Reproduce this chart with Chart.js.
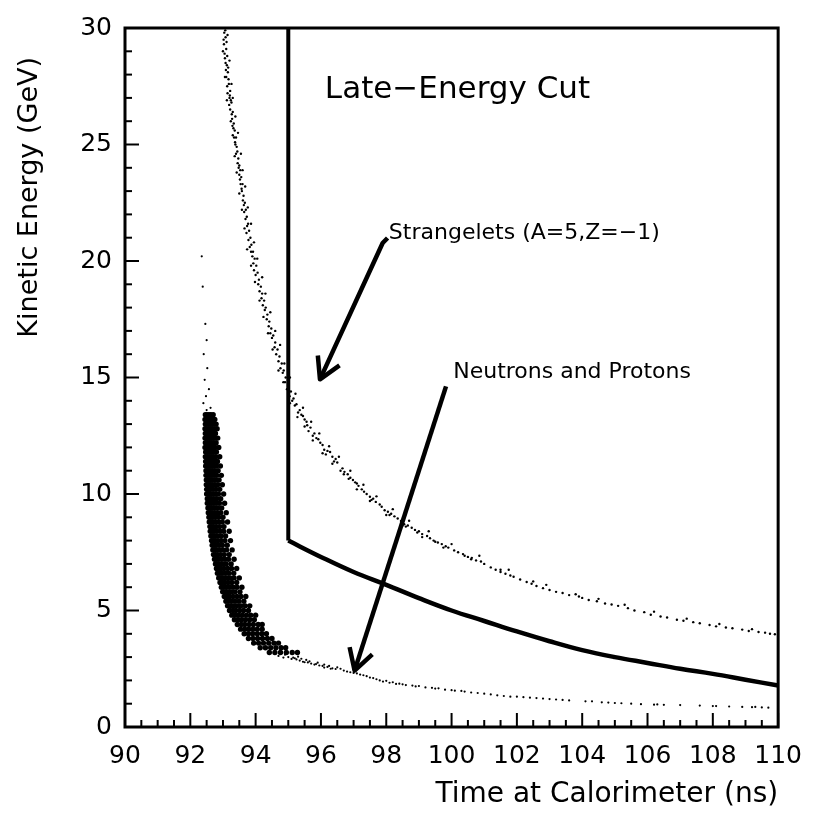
<!DOCTYPE html>
<html>
<head>
<meta charset="utf-8">
<script src="https://cdn.jsdelivr.net/npm/chart.js@4"></script>
<style>
  html, body { margin: 0; padding: 0; background: #fff; }
  #wrap { width: 816px; height: 814px; }
</style>
</head>
<body>
<div id="wrap"><canvas id="cutChart" width="816" height="814"></canvas></div>
<script>
// Neutron/proton band, dense part: [energy, [times...]] rows
const neutronRows = [
  [13.4, [92.46, 92.51, 92.57, 92.63, 92.7]],
  [13.2, [92.45, 92.5, 92.56, 92.62, 92.68, 92.75]],
  [13.0, [92.46, 92.52, 92.58, 92.64, 92.71, 92.79]],
  [12.8, [92.45, 92.5, 92.56, 92.62, 92.68, 92.75, 92.82]],
  [12.6, [92.46, 92.52, 92.58, 92.64, 92.7, 92.77]],
  [12.4, [92.45, 92.5, 92.56, 92.62, 92.67, 92.74, 92.84]],
  [12.2, [92.46, 92.52, 92.58, 92.64, 92.71, 92.79]],
  [12.0, [92.45, 92.51, 92.57, 92.63, 92.69, 92.76, 92.87]],
  [11.8, [92.47, 92.53, 92.59, 92.65, 92.72, 92.8]],
  [11.6, [92.46, 92.52, 92.58, 92.64, 92.7, 92.78, 92.9]],
  [11.4, [92.47, 92.53, 92.59, 92.66, 92.74, 92.83]],
  [11.2, [92.47, 92.53, 92.59, 92.65, 92.71, 92.79, 92.92]],
  [11.0, [92.48, 92.54, 92.6, 92.67, 92.75, 92.85]],
  [10.8, [92.48, 92.54, 92.6, 92.66, 92.73, 92.81, 92.95]],
  [10.6, [92.49, 92.55, 92.61, 92.69, 92.77, 92.88]],
  [10.4, [92.49, 92.55, 92.61, 92.67, 92.75, 92.84, 92.98]],
  [10.2, [92.5, 92.56, 92.62, 92.7, 92.79, 92.9]],
  [10.0, [92.5, 92.56, 92.62, 92.69, 92.77, 92.86, 93.02]],
  [9.8, [92.52, 92.58, 92.64, 92.72, 92.81, 92.93]],
  [9.6, [92.52, 92.58, 92.64, 92.71, 92.79, 92.89, 93.05]],
  [9.4, [92.54, 92.6, 92.66, 92.74, 92.84, 92.96]],
  [9.2, [92.55, 92.61, 92.67, 92.75, 92.83, 92.93, 93.1]],
  [9.0, [92.57, 92.63, 92.69, 92.77, 92.87, 93.0]],
  [8.8, [92.58, 92.64, 92.7, 92.78, 92.87, 92.98, 93.14]],
  [8.6, [92.6, 92.66, 92.72, 92.8, 92.9, 93.03]],
  [8.4, [92.61, 92.67, 92.73, 92.81, 92.91, 93.02, 93.19]],
  [8.2, [92.63, 92.69, 92.75, 92.83, 92.94, 93.08]],
  [8.0, [92.65, 92.71, 92.77, 92.85, 92.95, 93.06, 93.23]],
  [7.8, [92.67, 92.73, 92.79, 92.88, 92.98, 93.13]],
  [7.6, [92.69, 92.75, 92.81, 92.9, 93.0, 93.11, 93.28]],
  [7.4, [92.71, 92.77, 92.84, 92.93, 93.04, 93.19]],
  [7.2, [92.74, 92.8, 92.87, 92.96, 93.06, 93.17, 93.34]],
  [7.0, [92.77, 92.83, 92.9, 92.99, 93.1, 93.25]],
  [6.8, [92.8, 92.87, 92.94, 93.03, 93.14, 93.26, 93.42]],
  [6.6, [92.83, 92.9, 92.97, 93.07, 93.18, 93.33]],
  [6.4, [92.87, 92.94, 93.01, 93.11, 93.22, 93.34, 93.5]],
  [6.2, [92.91, 92.98, 93.06, 93.16, 93.27, 93.42]],
  [6.0, [92.95, 93.02, 93.1, 93.2, 93.31, 93.43, 93.58]],
  [5.8, [92.99, 93.07, 93.15, 93.25, 93.37, 93.52]],
  [5.6, [93.04, 93.12, 93.2, 93.31, 93.43, 93.55, 93.7]],
  [5.4, [93.09, 93.17, 93.26, 93.37, 93.49, 93.64]],
  [5.2, [93.14, 93.23, 93.32, 93.43, 93.55, 93.68, 93.82]],
  [5.0, [93.2, 93.3, 93.39, 93.51, 93.63, 93.78]],
  [4.8, [93.27, 93.37, 93.47, 93.59, 93.72, 93.85, 94.0]],
  [4.6, [93.35, 93.46, 93.57, 93.69, 93.82, 93.96]],
  [4.4, [93.44, 93.56, 93.67, 93.8, 93.93, 94.08, 94.2]],
  [4.2, [93.54, 93.67, 93.79, 93.92, 94.05, 94.2]],
  [4.0, [93.65, 93.78, 93.91, 94.05, 94.19, 94.33]],
  [3.8, [93.78, 93.92, 94.06, 94.21, 94.36, 94.5]],
  [3.6, [93.94, 94.09, 94.24, 94.4, 94.56, 94.7]],
  [3.4, [94.14, 94.3, 94.46, 94.62, 94.78, 94.92]],
  [3.2, [94.42, 94.59, 94.76, 94.94, 95.12, 95.28]]
];

// Neutron/proton stragglers above the band and the long low-energy tail
const neutronSparse = [
  [92.35, 20.2], [92.38, 18.9], [92.46, 17.3], [92.5, 16.6], [92.41, 16.0],
  [92.52, 15.4], [92.44, 14.9], [92.57, 14.5], [92.48, 14.2], [92.4, 13.9],
  [92.62, 13.7], [92.5, 13.6],
  [94.7, 3.05], [94.85, 2.98], [95.0, 3.0], [95.1, 2.92], [95.25, 2.9],
  [95.35, 2.85], [95.45, 2.8], [95.6, 2.77], [95.7, 2.72], [95.85, 2.7],
  [95.95, 2.64], [96.05, 2.62], [96.2, 2.58], [96.35, 2.52], [96.45, 2.49],
  [95.3, 3.02], [95.55, 2.88], [95.9, 2.76], [96.25, 2.62], [94.9, 3.1],
  [95.15, 2.98], [95.4, 2.93], [95.65, 2.82], [96.1, 2.68], [96.5, 2.56],
  [96.6, 2.5], [96.9, 2.35], [97.1, 2.3], [97.3, 2.22], [97.5, 2.12],
  [97.7, 2.05], [97.9, 1.95], [98.1, 1.9], [98.3, 1.85], [98.6, 1.8],
  [98.9, 1.74], [99.2, 1.7], [99.5, 1.65], [99.8, 1.6], [100.1, 1.56],
  [100.4, 1.52], [100.8, 1.46], [101.2, 1.4], [101.6, 1.33], [102.0, 1.3],
  [102.4, 1.26], [102.8, 1.22], [103.2, 1.18], [103.6, 1.14], [104.1, 1.1],
  [104.6, 1.06], [105.2, 1.02], [105.8, 0.98], [106.2, 0.96], [106.5, 0.95],
  [107.6, 0.92], [108.0, 0.9], [108.9, 0.86], [109.2, 0.85], [109.5, 0.84],
  [96.7, 2.42], [97.0, 2.32], [97.4, 2.18], [97.8, 2.0], [98.2, 1.92],
  [98.5, 1.83], [99.0, 1.76], [99.6, 1.66], [100.3, 1.55], [101.0, 1.43],
  [101.8, 1.3], [103.0, 1.2], [104.3, 1.1], [105.5, 1.0], [106.3, 0.97],
  [108.1, 0.9], [109.3, 0.86],
  [95.2, 2.95], [95.5, 2.78], [95.8, 2.68], [96.1, 2.55], [96.3, 2.5],
  [96.8, 2.38], [97.2, 2.25], [97.6, 2.1], [98.0, 1.98], [98.4, 1.86],
  [98.8, 1.78], [99.4, 1.68], [100.0, 1.58], [100.6, 1.48], [101.4, 1.36],
  [102.2, 1.28], [102.6, 1.24], [103.4, 1.16], [104.8, 1.05], [105.0, 1.03],
  [107.0, 0.94], [108.5, 0.88], [109.7, 0.83]
];

// Strangelets (A=5, Z=-1)
const strangeletHits = [
  [93.04, 29.8], [93.08, 29.6], [93.03, 29.3], [93.1, 29.1], [93.06, 28.7],
  [93.12, 28.4], [93.15, 28.1], [93.1, 27.9], [93.18, 27.6], [93.22, 27.3],
  [93.2, 27.0], [93.26, 26.8], [93.3, 26.4], [93.28, 26.1], [93.33, 25.9],
  [93.36, 25.6], [93.4, 25.3], [93.38, 25.0], [93.44, 24.7], [93.47, 24.4],
  [93.5, 24.1], [93.53, 23.9], [93.56, 23.6], [93.6, 23.3], [93.58, 23.0],
  [93.63, 22.8], [93.67, 22.5], [93.7, 22.2], [93.73, 21.9], [93.77, 21.6],
  [93.8, 21.3], [93.84, 21.0], [93.87, 20.7], [93.92, 20.4], [93.97, 20.1],
  [94.02, 19.8], [94.06, 19.5], [94.1, 19.2], [94.16, 18.9], [94.2, 18.6],
  [94.26, 18.3], [94.31, 18.0], [94.36, 17.7], [94.42, 17.4], [94.48, 17.1],
  [94.54, 16.8], [94.6, 16.5], [94.67, 16.2], [94.73, 15.9], [94.8, 15.6],
  [94.86, 15.3], [94.92, 15.0], [95.0, 14.7], [95.08, 14.4], [95.16, 14.1],
  [95.25, 13.85], [95.35, 13.6], [95.45, 13.35], [95.56, 13.1], [95.68, 12.85],
  [95.8, 12.6], [95.92, 12.35], [96.05, 12.1], [96.2, 11.85], [96.35, 11.6],
  [96.5, 11.35], [96.66, 11.1], [96.82, 10.85], [96.98, 10.6], [97.15, 10.35],
  [97.32, 10.1], [97.5, 9.88], [97.68, 9.66], [97.86, 9.45], [98.05, 9.24],
  [98.25, 9.04], [98.45, 8.84], [98.66, 8.65], [98.88, 8.46], [99.1, 8.28],
  [99.34, 8.1], [99.58, 7.92], [99.82, 7.76], [100.08, 7.58], [100.35, 7.42],
  [100.62, 7.26], [100.9, 7.1], [101.2, 6.85], [101.5, 6.65], [101.8, 6.5],
  [102.1, 6.33], [102.45, 6.15], [102.8, 5.96], [103.2, 5.8], [103.6, 5.66],
  [104.0, 5.54], [104.45, 5.4], [104.9, 5.26], [105.4, 5.1], [105.9, 4.93],
  [106.4, 4.74], [106.9, 4.6], [107.4, 4.5], [107.9, 4.38], [108.4, 4.27],
  [108.9, 4.18], [109.4, 4.08], [109.9, 3.98],
  [93.07, 29.9], [93.05, 28.9], [93.13, 28.8], [93.09, 28.2], [93.17, 27.8],
  [93.14, 27.2], [93.24, 26.9], [93.22, 26.5], [93.29, 25.8], [93.34, 25.3],
  [93.42, 24.9], [93.45, 24.2], [93.5, 23.7], [93.54, 23.3], [93.61, 22.6],
  [93.65, 22.1], [93.74, 21.5], [93.78, 20.9], [93.86, 20.4], [93.93, 19.9],
  [94.0, 19.4], [94.12, 18.7], [94.22, 18.1], [94.34, 17.5], [94.45, 16.9],
  [94.58, 16.3], [94.7, 15.7], [94.83, 15.2], [94.96, 14.5], [95.12, 14.0],
  [95.3, 13.5], [95.5, 13.2], [95.62, 12.7], [95.86, 12.4], [96.1, 11.9],
  [96.28, 11.8], [96.45, 11.5], [96.72, 10.95], [96.9, 10.7], [97.1, 10.45],
  [97.4, 10.0], [97.6, 9.8], [97.95, 9.3], [98.15, 9.15], [98.55, 8.7],
  [98.78, 8.55], [99.0, 8.4], [99.45, 8.0], [99.7, 7.85], [100.2, 7.5],
  [100.5, 7.3], [101.0, 7.0], [101.65, 6.58], [102.3, 6.22], [103.0, 5.88],
  [103.9, 5.6], [104.7, 5.3], [105.6, 5.0], [106.6, 4.7], [107.6, 4.45],
  [108.6, 4.24], [109.6, 4.05],
  [93.02, 29.5], [93.11, 29.4], [93.08, 28.5], [93.16, 28.3], [93.13, 27.5],
  [93.21, 27.1], [93.19, 26.7], [93.27, 26.3], [93.32, 25.7], [93.37, 25.1],
  [93.4, 24.6], [93.48, 24.0], [93.52, 23.5], [93.57, 23.1], [93.64, 22.4],
  [93.69, 21.8], [93.72, 21.2], [93.82, 20.6], [93.9, 20.2], [93.95, 19.6],
  [94.08, 19.0], [94.18, 18.4], [94.28, 17.9], [94.4, 17.2], [94.5, 16.7],
  [94.63, 16.0], [94.76, 15.4], [94.9, 14.8], [95.04, 14.2], [95.2, 13.8],
  [95.4, 13.4], [95.58, 12.95], [95.75, 12.5], [95.98, 12.2], [96.15, 11.7],
  [96.4, 11.4], [96.6, 11.0], [96.85, 10.65], [97.05, 10.5], [97.25, 10.2],
  [97.55, 9.75], [97.8, 9.55], [98.1, 9.1], [98.35, 8.95], [98.6, 8.6],
  [98.95, 8.35], [99.25, 8.2], [99.5, 7.95], [99.9, 7.7], [100.4, 7.35],
  [100.75, 7.15], [101.35, 6.75], [101.9, 6.45], [102.6, 6.05], [103.4, 5.75],
  [104.2, 5.45], [105.1, 5.2], [106.1, 4.82], [107.1, 4.56], [108.1, 4.32],
  [109.1, 4.12], [109.75, 4.0],
  [93.0, 29.0], [93.14, 29.7], [93.2, 28.6], [93.06, 27.9], [93.26, 27.6],
  [93.12, 26.9], [93.3, 27.0], [93.24, 26.0], [93.38, 26.2], [93.3, 25.4],
  [93.46, 25.5], [93.36, 24.5], [93.55, 24.6], [93.42, 23.8], [93.6, 23.9],
  [93.5, 22.9], [93.68, 23.2], [93.58, 22.2], [93.76, 22.3], [93.66, 21.4],
  [93.86, 21.6], [93.74, 20.5], [93.95, 20.8], [93.86, 19.8], [94.05, 20.1],
  [93.98, 19.1], [94.2, 19.3], [94.12, 18.3], [94.3, 18.6], [94.24, 17.6],
  [94.45, 17.8], [94.38, 16.9], [94.6, 17.0], [94.52, 16.2], [94.75, 16.4],
  [94.7, 15.3], [94.88, 15.6], [94.85, 14.8], [95.05, 15.0], [95.05, 13.9],
  [95.22, 14.3], [95.28, 13.3], [95.45, 13.7], [95.5, 12.9], [95.7, 13.1],
  [95.75, 12.3], [95.95, 12.6], [96.05, 11.75], [96.25, 12.05], [96.35, 11.3],
  [96.55, 11.6], [96.7, 10.85], [96.9, 11.0], [97.1, 10.2], [97.3, 10.4],
  [97.5, 9.7], [97.7, 9.9], [98.0, 9.1], [98.2, 9.35], [98.5, 8.65],
  [98.7, 8.85], [99.1, 8.15], [99.3, 8.4], [99.75, 7.7], [100.0, 7.85],
  [100.6, 7.2], [100.85, 7.35], [101.5, 6.75], [101.75, 6.75], [102.5, 6.25],
  [102.9, 6.1], [103.8, 5.7], [104.5, 5.5], [105.3, 5.25], [106.2, 4.95],
  [107.2, 4.65], [108.2, 4.42], [109.2, 4.2]
];

// Late-energy cut: vertical edge at 95 ns, then the falling boundary
const cutEdgeTime = [95, 95];
const cutEdgeEnergy = [30, 8];
const cutCurveTime = [95, 96, 97, 98, 99, 100, 101, 102, 103, 104, 105, 106, 107, 108, 109, 110];
const cutCurveEnergy = [8.0, 7.3, 6.65, 6.1, 5.53, 5.0, 4.55, 4.1, 3.68, 3.3, 3.0, 2.75, 2.5, 2.28, 2.03, 1.78];

// Annotations, in data coordinates
const cutLabel = { text: 'Late\u2212Energy Cut', t: 96.12, e: 27.0 };
const strangeletLabel = { text: 'Strangelets (A=5,Z=\u22121)', t: 98.08, e: 20.93 };
const neutronLabel = { text: 'Neutrons and Protons', t: 100.05, e: 15.0 };
// arrow polylines, last point is the tip
const strangeletArrow = [[98.04, 20.99], [97.89, 20.77], [95.97, 14.92]];
const neutronArrow = [[99.83, 14.62], [97.03, 2.42]];

const toPoints = (pairs) => pairs.map(([x, y]) => ({ x, y }));
const neutronCore = [];
neutronRows.forEach(([e, times]) => times.forEach(t => neutronCore.push({ x: t, y: e })));

const FONT = "'DejaVu Sans', sans-serif";

function drawArrow(ctx, pts) {
  ctx.beginPath();
  pts.forEach(([px, py], i) => (i ? ctx.lineTo(px, py) : ctx.moveTo(px, py)));
  ctx.stroke();
  const [x0, y0] = pts[pts.length - 2];
  const [x1, y1] = pts[pts.length - 1];
  const ang = Math.atan2(y1 - y0, x1 - x0);
  const len = 24, spread = 0.52;
  ctx.beginPath();
  ctx.moveTo(x1 - len * Math.cos(ang - spread), y1 - len * Math.sin(ang - spread));
  ctx.lineTo(x1, y1);
  ctx.lineTo(x1 - len * Math.cos(ang + spread), y1 - len * Math.sin(ang + spread));
  ctx.stroke();
}

// frame, inward tick marks, arrows and text
const frameAndMarks = {
  id: 'frameAndMarks',
  afterDatasetsDraw(chart) {
    const { ctx, chartArea: a, scales: { x, y } } = chart;
    ctx.save();
    ctx.strokeStyle = '#000';
    ctx.lineCap = 'butt';

    ctx.lineWidth = 2;
    for (let t = 90; t <= 110.001; t += 0.5) {
      const px = x.getPixelForValue(t);
      const len = Math.abs(t % 2) < 0.001 ? 14 : 7;
      ctx.beginPath();
      ctx.moveTo(px, a.bottom);
      ctx.lineTo(px, a.bottom - len);
      ctx.stroke();
    }
    for (let e = 0; e <= 30; e += 1) {
      const py = y.getPixelForValue(e);
      const len = e % 5 === 0 ? 14 : 7;
      ctx.beginPath();
      ctx.moveTo(a.left, py);
      ctx.lineTo(a.left + len, py);
      ctx.stroke();
    }

    ctx.lineWidth = 3;
    ctx.strokeRect(a.left, a.top, a.right - a.left, a.bottom - a.top);

    ctx.lineWidth = 4.5;
    ctx.lineJoin = 'round';
    [strangeletArrow, neutronArrow].forEach(arrow => {
      drawArrow(ctx, arrow.map(([t, e]) => [x.getPixelForValue(t), y.getPixelForValue(e)]));
    });

    ctx.fillStyle = '#000';
    ctx.textBaseline = 'alphabetic';
    ctx.textAlign = 'left';
    ctx.font = '31px ' + FONT;
    ctx.fillText(cutLabel.text, x.getPixelForValue(cutLabel.t), y.getPixelForValue(cutLabel.e));
    ctx.font = '22px ' + FONT;
    [strangeletLabel, neutronLabel].forEach(l => {
      ctx.fillText(l.text, x.getPixelForValue(l.t), y.getPixelForValue(l.e));
    });

    // y axis title, rotated, ending near the top of the axis
    ctx.save();
    ctx.translate(30, 57);
    ctx.rotate(-Math.PI / 2);
    ctx.textAlign = 'right';
    ctx.textBaseline = 'middle';
    ctx.font = '27px ' + FONT;
    ctx.fillText('Kinetic Energy (GeV)', 0, 0);
    ctx.restore();

    ctx.restore();
  }
};

new Chart(document.getElementById('cutChart'), {
  type: 'scatter',
  data: {
    datasets: [
      {
        label: 'Neutrons and Protons',
        data: neutronCore,
        pointRadius: 2.7,
        pointBorderWidth: 0,
        backgroundColor: '#000'
      },
      {
        label: 'Neutrons and Protons (sparse)',
        data: toPoints(neutronSparse),
        pointRadius: 1.1,
        pointBorderWidth: 0,
        backgroundColor: '#000'
      },
      {
        label: 'Strangelets',
        data: toPoints(strangeletHits),
        pointRadius: 1.2,
        pointBorderWidth: 0,
        backgroundColor: '#000'
      },
      {
        label: 'Cut edge',
        data: cutEdgeTime.map((t, i) => ({ x: t, y: cutEdgeEnergy[i] })),
        showLine: true,
        borderColor: '#000',
        borderWidth: 4,
        pointRadius: 0
      },
      {
        label: 'Cut boundary',
        data: cutCurveTime.map((t, i) => ({ x: t, y: cutCurveEnergy[i] })),
        showLine: true,
        borderColor: '#000',
        borderWidth: 4.5,
        pointRadius: 0,
        tension: 0.4
      }
    ]
  },
  options: {
    responsive: false,
    animation: false,
    devicePixelRatio: 1,
    layout: { padding: { left: 0, top: 19, right: 28, bottom: 0 } },
    plugins: {
      legend: { display: false },
      tooltip: { enabled: false }
    },
    scales: {
      x: {
        type: 'linear',
        min: 90,
        max: 110,
        grid: { display: false, drawTicks: false },
        border: { display: false },
        ticks: { stepSize: 2, padding: 14, color: '#000', font: { family: FONT, size: 25 } },
        title: {
          display: true,
          text: 'Time at Calorimeter (ns)',
          align: 'end',
          color: '#000',
          font: { family: FONT, size: 28 },
          padding: { top: 0, bottom: 2 }
        },
        afterFit(scale) { scale.height = 87; }
      },
      y: {
        type: 'linear',
        min: 0,
        max: 30,
        grid: { display: false, drawTicks: false },
        border: { display: false },
        ticks: { stepSize: 5, padding: 13, color: '#000', font: { family: FONT, size: 25 } },
        afterFit(scale) { scale.width = 125; }
      }
    }
  },
  plugins: [frameAndMarks]
});
</script>
</body>
</html>
